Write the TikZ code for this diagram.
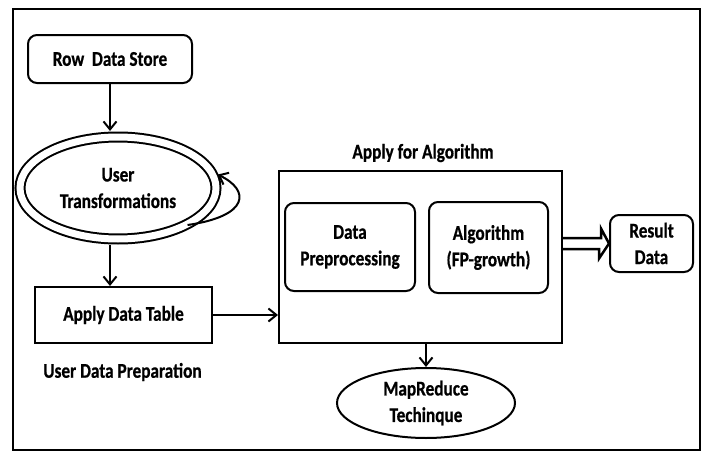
\documentclass[tikz,border=0pt]{standalone}
\usepackage{fontspec}
\setmainfont{Carlito}[FakeStretch=0.82,BoldFeatures={FakeBold=0.6}]
\usetikzlibrary{arrows.meta,shapes.geometric}
\begin{document}
\begin{tikzpicture}[x=1pt,y=-1pt,
 lbl/.style={font=\fontsize{21}{26.5}\selectfont\bfseries, align=center, inner sep=0pt},
 rbox/.style={draw, line width=2pt, rounded corners=9pt, lbl},
 sbox/.style={draw, line width=2pt, lbl},
 arr/.style={line width=2pt, -{Straight Barb[length=8pt,width=13pt,line width=2pt]}},
 hollow/.style={line width=2.5pt, line join=miter},
]
\useasboundingbox (0,0) rectangle (705,455);
\draw[line width=2.5pt] (13,9) rectangle (700,450);
\node[rbox, minimum width=164pt, minimum height=48pt] (row) at (110,59) {Row\ \ Data Store};
\node[lbl, ellipse, draw, double, double distance=7pt, line width=2pt, minimum width=196pt, minimum height=102pt] (ut) at (118,188) {User\\Transformations};
\node[sbox, minimum width=177pt, minimum height=56pt] (tab) at (123.5,315) {Apply Data Table};
\node[lbl] (udp) at (122.5,372) {User Data Preparation};
\node[sbox, minimum width=283pt, minimum height=172pt] (big) at (420.5,257) {};
\node[lbl] (title) at (423,153) {Apply for Algorithm};
\node[rbox, minimum width=130pt, minimum height=88pt] (dp) at (350,247) {Data\\Preprocessing};
\node[rbox, minimum width=119pt, minimum height=91pt] (alg) at (488.5,247.5) {Algorithm\\(FP-growth)};
\node[rbox, minimum width=83pt, minimum height=57pt] (res) at (651.5,243.5) {Result\\Data};
\node[lbl, ellipse, draw, line width=2pt, minimum width=178pt, minimum height=70pt] (mr) at (426,403) {MapReduce\\Techinque};
\draw[arr, shorten >=5pt] (row.south) -- (row.south |- ut.north);
\draw[arr] (ut.-28) .. controls (250,216) and (250,190) .. ([xshift=4pt]ut.8);
\draw[arr, shorten <=5pt] (ut.south -| row.south) -- (tab.north -| row.south);
\draw[arr] (tab.east) -- (tab.east -| big.west);
\draw[hollow] ([yshift=5.5pt]big.east |- res.west) -- ++(38,0) -- ++(0,-9.5) -- (res.west)
  -- ++(-10,15) -- ++(0,-9.5) -- ([yshift=-5.5pt]big.east |- res.west);
\draw[arr] (mr.north |- big.south) -- (mr.north);
\end{tikzpicture}
\end{document}
